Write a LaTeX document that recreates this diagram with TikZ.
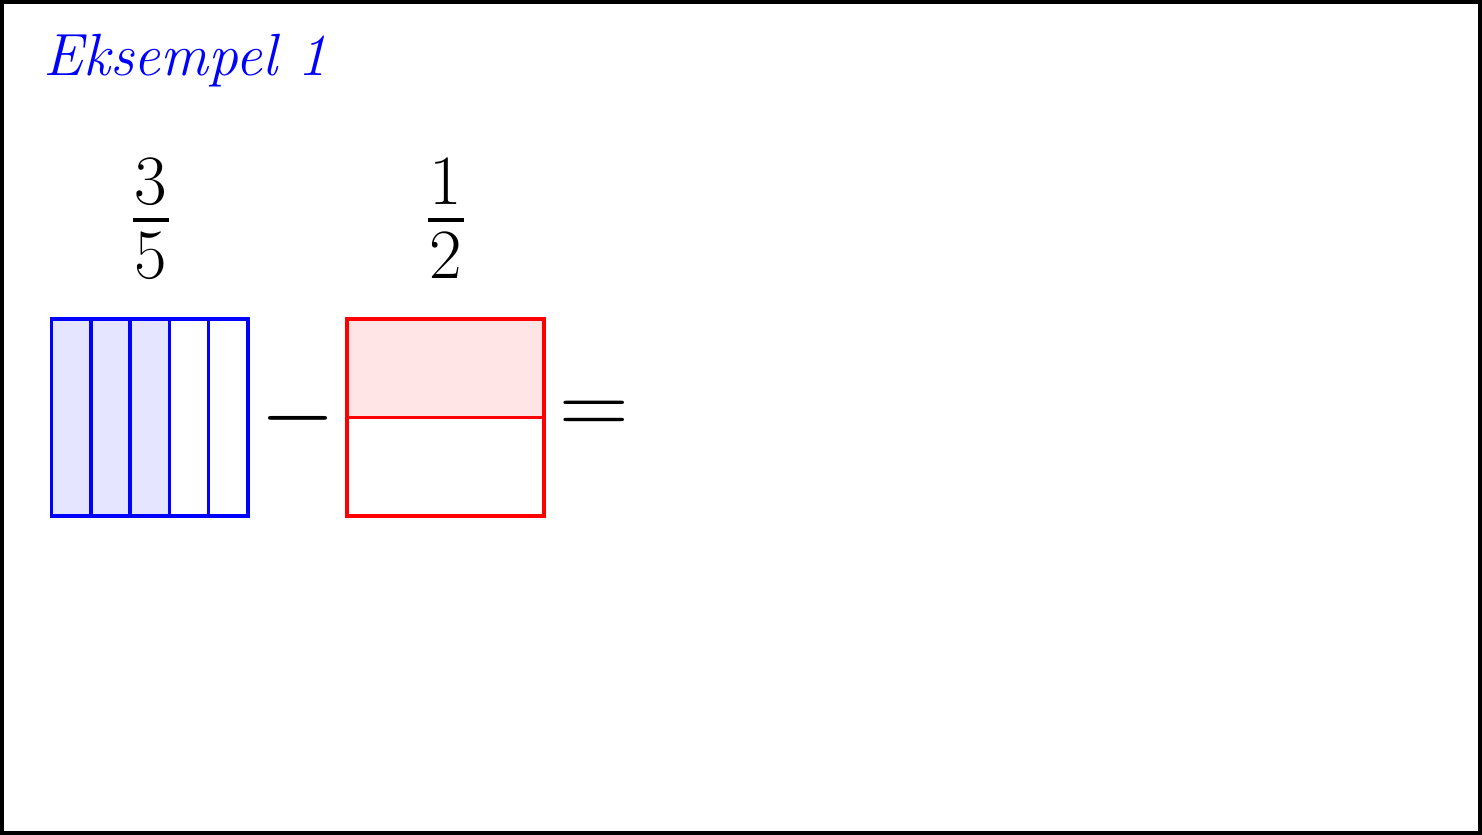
\documentclass[tikz,border=0pt]{standalone}
\usepackage{fix-cm}
\definecolor{bluefill}{RGB}{229,229,255}
\definecolor{redfill}{RGB}{255,229,229}
\tikzset{
  frame/.style={line width=1.3pt},
  titletext/.style={text=blue, font=\fontsize{17.28}{21}\selectfont\itshape, inner sep=0pt},
  digit/.style={font=\fontsize{20.5}{24}\selectfont, inner sep=0pt, anchor=base},
  fracbar/.style={line width=1.15pt},
  optext/.style={font=\fontsize{28}{34}\selectfont, inner sep=0pt},
  bluebox/.style={draw=blue, line width=1pt},
  redbox/.style={draw=red, line width=1pt},
}
\begin{document}
\begin{tikzpicture}[x=0.0102cm,y=-0.0102cm]
\useasboundingbox (0,0) rectangle (1482,835);
\draw[frame] (2,2) rectangle (1480,833);
\node[titletext, anchor=base west] (title) at (43,76) {Eksempel 1};
% fraction 3/5
\node[digit] (n1) at (151,205) {3};
\node[digit] (d1) at (151,279) {5};
\draw[fracbar] (132.8,220) -- (169.2,220);
% fraction 1/2
\node[digit] (n2) at (446,205) {1};
\node[digit] (d2) at (446,279) {2};
\draw[fracbar] (427.8,220) -- (464.2,220);
% blue box 3/5
\fill[bluefill] (51.5,319) rectangle (169.4,516);
\foreach \i in {1,2,3,4} {
  \draw[bluebox] ({51.5+39.3*\i},319) -- ({51.5+39.3*\i},516);
}
\draw[bluebox] (51.5,319) rectangle (248,516);
% minus
\node[optext] (minus) at (298,418) {$-$};
% red box 1/2
\fill[redfill] (347,319) rectangle (544,417.5);
\draw[redbox] (347,417.5) -- (544,417.5);
\draw[redbox] (347,319) rectangle (544,516);
% equals
\node[optext] (equals) at (594,418) {$=$};
\end{tikzpicture}
\end{document}
